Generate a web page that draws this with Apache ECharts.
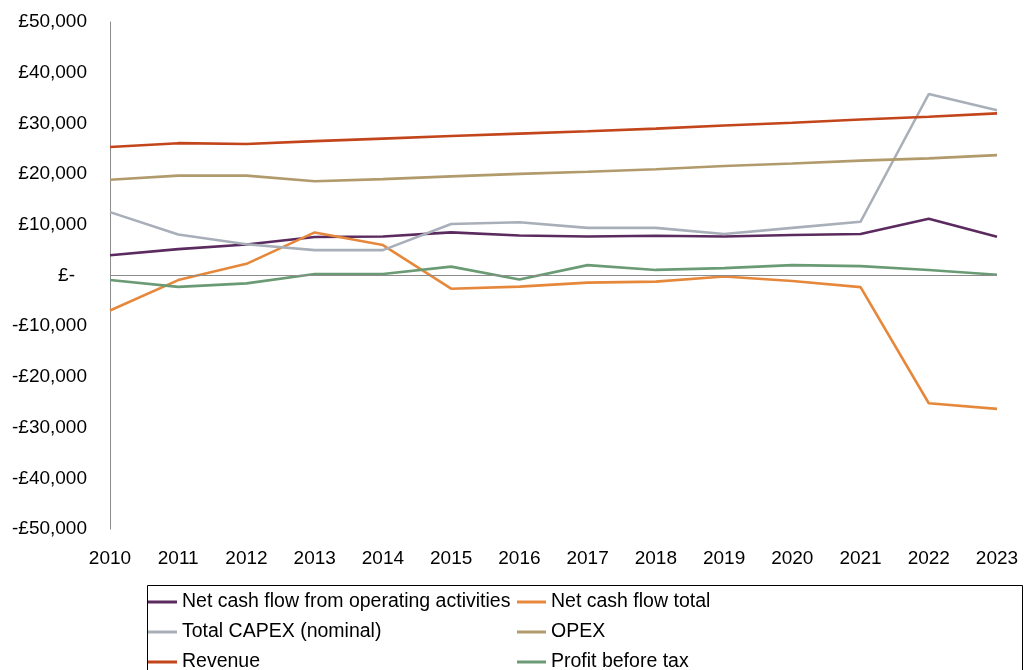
<!DOCTYPE html>
<html>
<head>
<meta charset="utf-8">
<script src="https://cdn.jsdelivr.net/npm/echarts@6/dist/echarts.min.js"></script>
<style>
  html, body { margin: 0; padding: 0; background: #fff; }
  #chart { width: 1027px; height: 670px; }
</style>
</head>
<body>
<div id="chart"></div>
<script>
// Financial projection, 2010-2023 (GBP)
const years = ['2010','2011','2012','2013','2014','2015','2016','2017','2018','2019','2020','2021','2022','2023'];

const netCashOperating = [4000, 5200, 6100, 7600, 7700, 8500, 7900, 7700, 7850, 7700, 8000, 8200, 11200, 7650];
const netCashTotal     = [-6900, -900, 2300, 8500, 6000, -2600, -2200, -1400, -1200, -200, -1100, -2300, -25200, -26300];
const totalCapex       = [12500, 8100, 6150, 5000, 5000, 10150, 10500, 9400, 9400, 8200, 9400, 10600, 35800, 32600];
const opex             = [18900, 19700, 19700, 18600, 19000, 19550, 20050, 20450, 20950, 21600, 22100, 22650, 23100, 23750];
const revenue          = [25350, 26100, 25950, 26500, 27000, 27500, 27980, 28450, 28960, 29600, 30120, 30780, 31300, 31980];
const profitBeforeTax  = [-900, -2250, -1550, 300, 300, 1750, -800, 2050, 1100, 1450, 2050, 1850, 1100, 150];

const yTicks = { min: -50000, max: 50000, interval: 10000 };

const FONT = '"Liberation Sans", Arial, sans-serif';

function fmtGBP(v) {
  if (v === 0) return '{z|£-}';
  const s = Math.abs(v).toLocaleString('en-GB');
  return (v < 0 ? '-£' : '£') + s;
}

function line(name, data, color) {
  return {
    name, type: 'line', data,
    symbol: 'none', smooth: false,
    lineStyle: { color, width: 2.6 },
    itemStyle: { color },
    emphasis: { disabled: true }
  };
}

const series = [
  line('Net cash flow from operating activities', netCashOperating, '#5B2A5E'),
  line('Net cash flow total', netCashTotal, '#E6883C'),
  line('Total CAPEX (nominal)', totalCapex, '#A9AFB9'),
  line('OPEX', opex, '#B19A6B'),
  line('Revenue', revenue, '#C3451B'),
  line('Profit before tax', profitBeforeTax, '#6A9B74')
];

// zero baseline across the plot
series[0].markLine = {
  silent: true, symbol: 'none', label: { show: false },
  lineStyle: { color: '#8C8C8C', width: 1, type: 'solid' },
  data: [{ yAxis: 0 }]
};

// legend laid out as a two-column table, one legend per entry
const legendSlots = [
  { name: 'Net cash flow from operating activities', left: 148, cy: 602 },
  { name: 'Net cash flow total',                     left: 517, cy: 602 },
  { name: 'Total CAPEX (nominal)',                   left: 148, cy: 632 },
  { name: 'OPEX',                                    left: 517, cy: 632 },
  { name: 'Revenue',                                 left: 148, cy: 662 },
  { name: 'Profit before tax',                       left: 517, cy: 662 }
];
const legends = legendSlots.map(s => ({
  left: s.left, top: s.cy - 11, padding: 0,
  itemWidth: 29, itemHeight: 3, icon: 'rect', selectedMode: false,
  textStyle: { fontFamily: FONT, fontSize: 19.5, color: '#000', lineHeight: 22 },
  data: [s.name]
}));

const chart = echarts.init(document.getElementById('chart'), null, { renderer: 'canvas' });
chart.setOption({
  animation: false,
  backgroundColor: '#fff',
  grid: { left: 110, right: 30, top: 22, bottom: 141, containLabel: false },
  xAxis: {
    type: 'category', data: years, boundaryGap: false,
    axisLine: { show: false }, axisTick: { show: false },
    axisLabel: { fontFamily: FONT, fontSize: 19, color: '#000', margin: 20 },
    splitLine: { show: false }
  },
  yAxis: {
    type: 'value', min: yTicks.min, max: yTicks.max, interval: yTicks.interval,
    axisLine: { show: true, lineStyle: { color: '#8C8C8C', width: 1 } },
    axisTick: { show: false },
    splitLine: { show: false },
    axisLabel: {
      fontFamily: FONT, fontSize: 19, color: '#000', margin: 23,
      formatter: fmtGBP,
      rich: { z: { fontFamily: FONT, fontSize: 19, color: '#000', padding: [0, 12, 0, 0] } }
    }
  },
  legend: legends,
  graphic: [{
    type: 'rect', silent: true,
    shape: { x: 147.5, y: 585.5, width: 875, height: 120 },
    style: { fill: 'none', stroke: '#000', lineWidth: 1 }
  }],
  series
});
</script>
</body>
</html>
